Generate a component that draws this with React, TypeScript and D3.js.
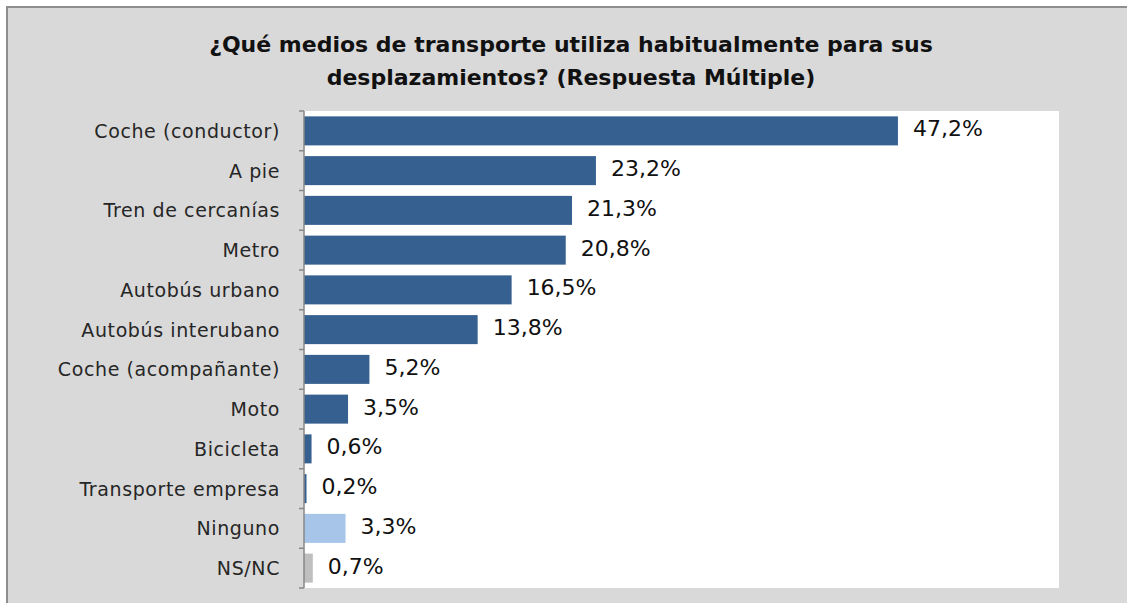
import React from "react";
import * as d3 from "d3";

const categories = [
  "Coche (conductor)",
  "A pie",
  "Tren de cercanías",
  "Metro",
  "Autobús urbano",
  "Autobús interubano",
  "Coche (acompañante)",
  "Moto",
  "Bicicleta",
  "Transporte empresa",
  "Ninguno",
  "NS/NC",
];
const values = [47.2, 23.2, 21.3, 20.8, 16.5, 13.8, 5.2, 3.5, 0.6, 0.2, 3.3, 0.7];
const valueLabels = ["47,2%", "23,2%", "21,3%", "20,8%", "16,5%", "13,8%", "5,2%", "3,5%", "0,6%", "0,2%", "3,3%", "0,7%"];
const barColors = ["#36608F", "#36608F", "#36608F", "#36608F", "#36608F", "#36608F", "#36608F", "#36608F", "#36608F", "#36608F", "#A6C5E9", "#BFBFBF"];
const titleLines = ["¿Qué medios de transporte utiliza habitualmente para sus", "desplazamientos? (Respuesta Múltiple)"];

const W = 1127;
const H = 603;
const plot = { left: 304, right: 1059, top: 111, bottom: 588 };

export default function App() {
  const x = d3.scaleLinear().domain([0, 60]).range([plot.left, plot.right]);
  const y = d3
    .scaleBand<string>()
    .domain(categories)
    .range([plot.top, plot.bottom])
    .paddingInner(0.27)
    .paddingOuter(0.135);
  const step = y.step();
  const ticks = d3.range(categories.length + 1).map((i) => plot.top + i * step);
  const font = "'DejaVu Sans', sans-serif";

  return (
    <svg
      width={W}
      height={H}
      style={{ position: "absolute", left: 0, top: 0, background: "#fff" }}
    >
      <rect x={7} y={7} width={W + 10} height={H + 10} fill="#D9D9D9" stroke="#8E8E8E" strokeWidth={2} />
      <rect x={plot.left} y={plot.top} width={plot.right - plot.left} height={plot.bottom - plot.top} fill="#FFFFFF" />
      {titleLines.map((t, i) => (
        <text
          key={i}
          x={571}
          y={52 + i * 33}
          textAnchor="middle"
          fontFamily={font}
          fontWeight="bold"
          fontSize={22}
          fill="#111"
        >
          {t}
        </text>
      ))}
      {categories.map((c, i) => (
        <g key={c}>
          <rect
            x={x(0)}
            y={y(c)!}
            width={Math.max(0, x(values[i]) - x(0))}
            height={y.bandwidth()}
            fill={barColors[i]}
          />
          <text
            x={x(values[i]) + 15}
            y={y(c)! + y.bandwidth() / 2 - 2}
            dominantBaseline="central"
            fontFamily={font}
            fontSize={22}
            fill="#111"
          >
            {valueLabels[i]}
          </text>
          <text
            x={280}
            y={y(c)! + y.bandwidth() / 2}
            dominantBaseline="central"
            textAnchor="end"
            fontFamily={font}
            fontSize={19}
            letterSpacing={0.6}
            fill="#262626"
          >
            {c}
          </text>
        </g>
      ))}
      <line x1={plot.left} x2={plot.left} y1={plot.top} y2={plot.bottom} stroke="#878787" strokeWidth={1.5} />
      {ticks.map((t, i) => (
        <line key={i} x1={plot.left - 5} x2={plot.left} y1={t} y2={t} stroke="#878787" strokeWidth={1.5} />
      ))}
    </svg>
  );
}
